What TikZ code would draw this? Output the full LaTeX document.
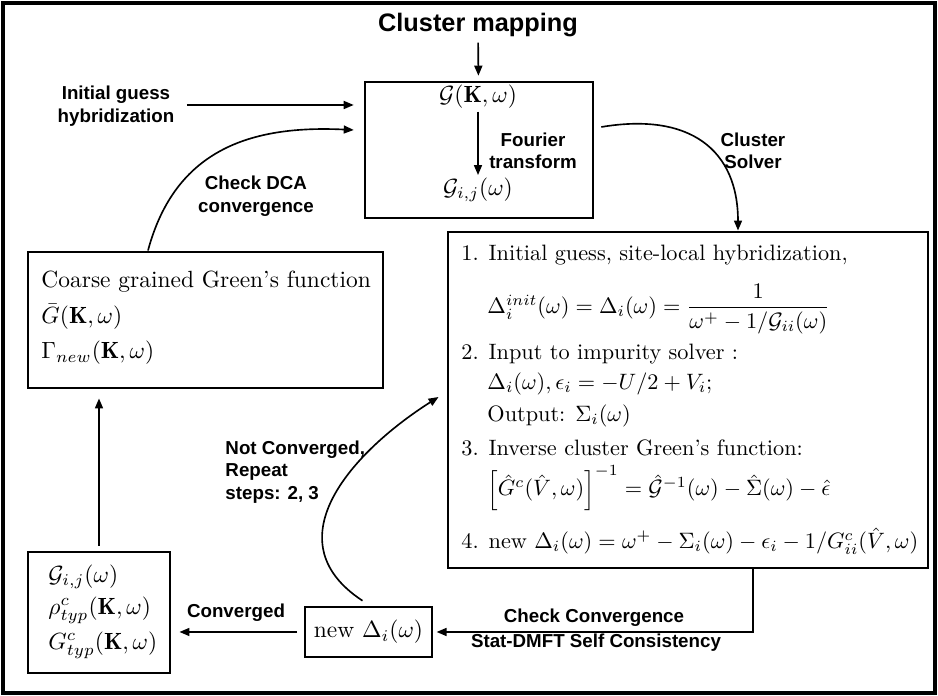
\documentclass[tikz,border=0pt]{standalone}
\usepackage{amsmath,amssymb}
\usepackage{fontspec}
\newfontfamily\labfont{Liberation Sans}
\usetikzlibrary{arrows.meta,fit,calc}
\newcommand{\smc}[1]{\scalebox{0.95}{#1}}
\begin{document}
\begin{tikzpicture}[x=0.015cm,y=-0.015cm,
  box/.style={draw,line width=1.25pt,inner sep=0pt},
  lab/.style={font=\labfont\bfseries\fontsize{8}{9.6}\selectfont,align=center,inner sep=0pt},
  txt/.style={inner sep=0pt,anchor=west},
  arr/.style={line width=0.7pt,-{Triangle[length=1.5mm,width=1.2mm]}}]
\useasboundingbox (0,0) rectangle (938,696);
\draw[line width=1.4pt] (3,3) rectangle (935,693);

% title
\node[lab,font=\labfont\bfseries\fontsize{10.8}{13}\selectfont] (title) at (478,25) {Cluster mapping};

% box A
\node[box,line width=1.1pt,fit={(365,82)(593,218)}] (boxA) {};
\node[inner sep=1pt] (gK) at (478,97) {$\mathcal{G}(\mathbf{K},\omega)$};
\node[inner sep=1pt] (gij) at (478,190) {$\mathcal{G}_{i,j}(\omega)$};

% box B
\node[box,fit={(28,252)(383,388)}] (boxB) {};
\node[txt] (b1) at (41,282) {Coarse grained Green's function};
\node[txt] (b2) at (41,317) {$\bar{G}(\mathbf{K},\omega)$};
\node[txt] (b3) at (41,353) {$\Gamma_{new}(\mathbf{K},\omega)$};

% box D
\node[box,fit={(28,552)(170,673)}] (boxD) {};
\node[txt] (d1) at (48,577) {$\mathcal{G}_{i,j}(\omega)$};
\node[txt] (d2) at (48,610) {$\rho^c_{typ}(\mathbf{K},\omega)$};
\node[txt] (d3) at (48,645) {$G^c_{typ}(\mathbf{K},\omega)$};

% box E
\node[box,line width=1.1pt,minimum width=1.905cm,minimum height=0.75cm] (boxE) at (368.5,632) {new $\Delta_i(\omega)$};

% box C
\node[box,fit={(448,232)(928,568)}] (boxC) {};
\node[txt] (c1) at (461,255) {\smc{1. Initial guess, site-local hybridization,}};
\node[txt] (c2) at (487,309) {\smc{$\Delta_i^{init}(\omega)=\Delta_i(\omega)=\dfrac{1}{\omega^+-1/\mathcal{G}_{ii}(\omega)}$}};
\node[txt] (c3) at (461,354) {\smc{2. Input to impurity solver :}};
\node[txt] (c4) at (487,384) {\smc{$\Delta_i(\omega),\epsilon_i=-U/2+V_i;$}};
\node[txt] (c5) at (487,416) {\smc{Output: $\Sigma_i(\omega)$}};
\node[txt] (c6) at (461,448) {\smc{3. Inverse cluster Green's function:}};
\node[txt] (c7) at (487,488) {\smc{$\Big[\hat{G}^c(\hat{V},\omega)\Big]^{-1}=\hat{\mathcal{G}}^{-1}(\omega)-\hat{\Sigma}(\omega)-\hat{\epsilon}$}};
\node[txt] (c8) at (461,541) {\smc{4. new $\Delta_i(\omega)=\omega^+-\Sigma_i(\omega)-\epsilon_i-1/G^c_{ii}(\hat{V},\omega)$}};

% labels
\node[lab] (init) at (116,106) {Initial guess\\hybridization};
\node[lab] (four) at (533,151) {Fourier\\transform};
\node[lab] (solv) at (753,151) {Cluster\\Solver};
\node[lab] (dca) at (256,196) {Check DCA\\convergence};
\node[lab,align=left,anchor=west] (notc) at (225,472) {Not Converged,\\Repeat\\steps: 2, 3};
\node[lab] (conv) at (236,613) {Converged};
\node[lab] (chk) at (594,618) {Check Convergence};
\node[lab] (stat) at (596,643) {Stat-DMFT Self Consistency};

% connectors
\draw[arr,shorten <=0.08cm,shorten >=0.075cm] (title) -- (boxA);
\draw[arr] (gK) -- (gij);
\draw[arr,shorten <=0.18cm,shorten >=0.15cm] (init.east |- 0,105) -- (boxA.west |- 0,105);
\draw[arr] ([shift={(-57.5,0)}]boxB.north) .. controls (175,150) and (250,125) .. ([shift={(-10,-20)}]boxA.west);
\draw[arr] ([shift={(7,-23)}]boxA.east) .. controls (690,112) and (738,150) .. ([shift={(50,0)}]boxC.north);
\draw[arr,shorten <=0.075cm,shorten >=0.135cm] (boxD.north) -- (boxD.north |- boxB.south);
\draw[arr,shorten <=0.1cm,shorten >=0.12cm] (boxE.west) -- (boxE.west -| boxD.east);
\draw[arr] ([shift={(-6,-5)}]boxE.north) .. controls (270,540) and (355,450) .. ([shift={(-8,-3)}]boxC.west);
\draw[arr,shorten >=0.05cm] ([shift={(65,0)}]boxC.south) |- (boxE.east);
\end{tikzpicture}
\end{document}
